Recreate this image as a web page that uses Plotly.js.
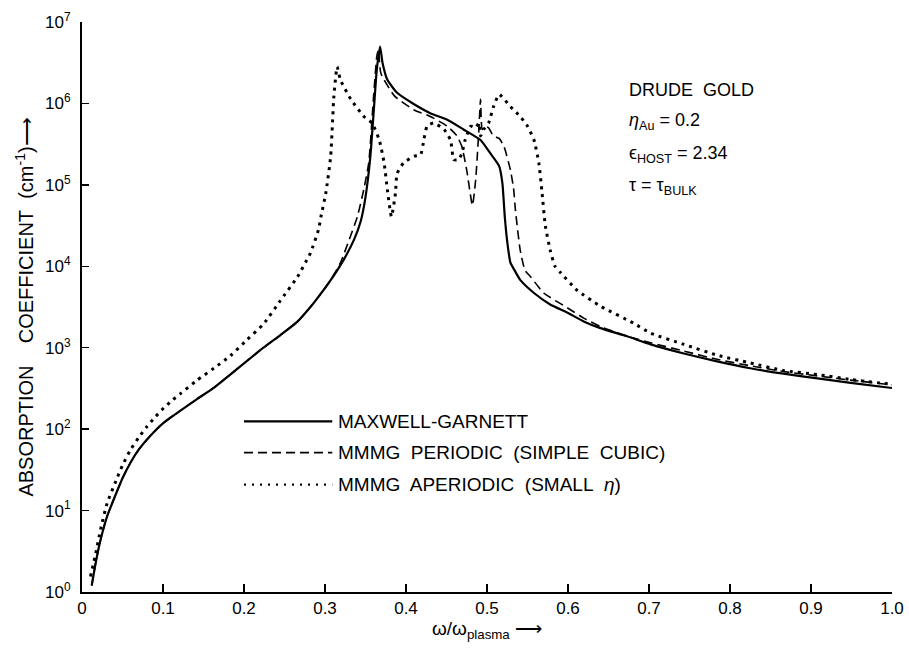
<!DOCTYPE html>
<html>
<head>
<meta charset="utf-8">
<script src="https://cdn.plot.ly/plotly-3.0.1.min.js"></script>
<style>html,body{margin:0;padding:0;background:#fff;}#chart{width:909px;height:652px;}</style>
</head>
<body>
<div id="chart"></div>
<script>
// omega / omega_plasma and absorption coefficient (cm^-1)
const mgX = [0.012,0.017,0.023,0.031,0.044,0.050,0.060,0.070,0.080,0.090,0.101,0.112,0.122,0.142,0.163,0.183,0.204,0.224,0.245,0.266,0.282,0.290,0.307,0.323,0.336,0.344,0.350,0.356,0.360,0.364,0.368,0.371,0.377,0.389,0.410,0.430,0.451,0.471,0.492,0.504,0.515,0.519,0.522,0.525,0.529,0.533,0.541,0.558,0.578,0.599,0.620,0.640,0.673,0.702,0.743,0.784,0.825,0.866,0.908,0.949,1.000];
const mgY = [1.2,2.3,4.4,8.5,18,25,39,56,74,95,120,145,170,234,324,468,692,1000,1430,2090,3160,3980,6760,12000,21400,35500,70800,224000,759000,2630000,5000000,3160000,1950000,1350000,977000,759000,631000,479000,355000,245000,170000,105000,40000,20000,11000,9300,6800,4700,3400,2700,2090,1740,1380,1100,850,680,560,480,420,370,320];

const perX = [0.012,0.017,0.023,0.031,0.044,0.050,0.060,0.070,0.080,0.090,0.101,0.112,0.122,0.142,0.163,0.183,0.204,0.224,0.245,0.266,0.282,0.290,0.307,0.319,0.330,0.340,0.348,0.354,0.360,0.364,0.366,0.369,0.386,0.410,0.430,0.451,0.463,0.469,0.475,0.482,0.486,0.490,0.492,0.494,0.498,0.502,0.508,0.515,0.521,0.529,0.533,0.535,0.541,0.547,0.554,0.570,0.599,0.620,0.640,0.673,0.702,0.743,0.784,0.825,0.866,0.908,0.949,1.000];
const perY = [1.2,2.3,4.4,8.5,18,25,39,56,74,95,120,145,170,234,324,468,692,1000,1430,2090,3160,3980,6760,11000,21400,40700,89000,186000,1230000,3800000,4570000,2340000,1230000,832000,692000,525000,398000,295000,151000,56000,115000,479000,1120000,479000,525000,501000,398000,372000,295000,151000,87000,50000,15800,8900,7400,4700,3100,2290,1820,1380,1150,910,720,600,510,450,400,350];

const aperX = [0.0105,0.017,0.023,0.031,0.044,0.050,0.060,0.070,0.080,0.090,0.101,0.112,0.122,0.142,0.163,0.183,0.204,0.224,0.245,0.266,0.276,0.282,0.292,0.295,0.301,0.307,0.311,0.315,0.319,0.332,0.348,0.358,0.367,0.373,0.377,0.382,0.387,0.389,0.397,0.410,0.418,0.422,0.426,0.434,0.447,0.455,0.459,0.465,0.469,0.473,0.480,0.486,0.490,0.492,0.496,0.502,0.508,0.515,0.529,0.541,0.550,0.558,0.564,0.568,0.572,0.578,0.584,0.591,0.611,0.640,0.681,0.702,0.743,0.784,0.825,0.866,0.908,0.949,1.000];
const aperY = [1.55,3.0,5.9,12.3,26,36,56,79,107,140,182,229,275,398,562,794,1260,1950,3800,7400,11200,14500,28200,40700,79000,224000,1230000,2820000,1950000,1120000,692000,575000,355000,186000,87000,40700,79000,138000,186000,224000,234000,355000,525000,575000,479000,355000,204000,204000,245000,355000,525000,501000,575000,398000,479000,575000,912000,1290000,912000,692000,525000,355000,186000,79000,31600,15800,10000,8300,5100,3240,2000,1510,1100,810,650,525,468,407,355];

const yTickVals = [1,10,100,1000,10000,100000,1000000,10000000];
const yTickText = ['10<sup>0</sup>','10<sup>1</sup>','10<sup>2</sup>','10<sup>3</sup>','10<sup>4</sup>','10<sup>5</sup>','10<sup>6</sup>','10<sup>7</sup>'];
const xTickVals = [0,0.1,0.2,0.3,0.4,0.5,0.6,0.7,0.8,0.9,1.0];
const xTickText = ['0','0.1','0.2','0.3','0.4','0.5','0.6','0.7','0.8','0.9','1.0'];
const seriesNames = ['MAXWELL-GARNETT','MMMG\u00A0 PERIODIC\u00A0 (SIMPLE\u00A0 CUBIC)','MMMG\u00A0 APERIODIC\u00A0 (SMALL\u00A0 <i>η</i>)'];

const FONT = 'Liberation Sans, Arial, Helvetica, sans-serif';
const ink = '#000000';

const traces = [
  {x: mgX, y: mgY, name: seriesNames[0], mode: 'lines', line: {color: ink, width: 2.2, shape: 'spline', smoothing: 0.5}},
  {x: perX, y: perY, name: seriesNames[1], mode: 'lines', line: {color: ink, width: 1.6, dash: '9px,5px', shape: 'spline', smoothing: 0.5}},
  {x: aperX, y: aperY, name: seriesNames[2], mode: 'lines', line: {color: ink, width: 3, dash: '3px,5px', shape: 'spline', smoothing: 0.5}}
];

// legend drawn like the original: long sample lines with labels
const legRows = [0.2994, 0.2445, 0.1884];
const legDash = ['solid', '9px,5px', '2px,6px'];
const legWidth = [2.2, 1.8, 2.2];
const shapes = legRows.map((yy, i) => ({
  type: 'line', xref: 'paper', yref: 'paper', x0: 0.200, x1: 0.309, y0: yy, y1: yy,
  line: {color: ink, width: legWidth[i], dash: legDash[i]}
}));
const annotations = legRows.map((yy, i) => ({
  xref: 'paper', yref: 'paper', x: 0.313, y: yy, xanchor: 'left', yanchor: 'middle',
  text: seriesNames[i], showarrow: false, font: {family: FONT, size: 19, color: ink}
}));
const infoText = ['DRUDE\u00A0 GOLD', '<i>η</i><sub>Au</sub> = 0.2', 'ϵ<sub>HOST</sub> = 2.34', 'τ = τ<sub>BULK</sub>'];
const infoY = [0.881, 0.8247, 0.7669, 0.7108];
infoText.forEach((t, i) => annotations.push({
  xref: 'paper', yref: 'paper', x: 0.673, y: infoY[i], xanchor: 'left', yanchor: 'middle',
  text: t, showarrow: false, font: {family: FONT, size: 18, color: ink}
}));

const layout = {
  width: 909, height: 652,
  margin: {l: 81.5, r: 17, t: 22, b: 59.5},
  paper_bgcolor: '#ffffff', plot_bgcolor: '#ffffff',
  showlegend: false,
  font: {family: FONT, size: 17, color: ink},
  xaxis: {
    range: [0, 1], tickvals: xTickVals, ticktext: xTickText,
    ticks: 'inside', ticklen: 8, tickwidth: 1.5, tickcolor: ink,
    showline: true, linecolor: ink, linewidth: 2, showgrid: false, zeroline: false,
    tickfont: {family: FONT, size: 17, color: ink},
    title: {text: 'ω/ω<sub>plasma</sub> ⟶', font: {family: FONT, size: 19, color: ink}, standoff: 4}
  },
  yaxis: {
    type: 'log', range: [0, 7], tickvals: yTickVals, ticktext: yTickText,
    ticks: 'inside', ticklen: 7, tickwidth: 1.5, tickcolor: ink,
    showline: true, linecolor: ink, linewidth: 2, showgrid: false, zeroline: false,
    ticklabelstandoff: 6,
    tickfont: {family: FONT, size: 17, color: ink},
    title: {text: 'ABSORPTION\u00A0\u00A0\u00A0 COEFFICIENT\u00A0 (cm<sup>-1</sup>)⟶', font: {family: FONT, size: 20, color: ink}, standoff: 6}
  },
  shapes: shapes,
  annotations: annotations
};

Plotly.newPlot('chart', traces, layout, {displayModeBar: false, staticPlot: true});
</script>
</body>
</html>
